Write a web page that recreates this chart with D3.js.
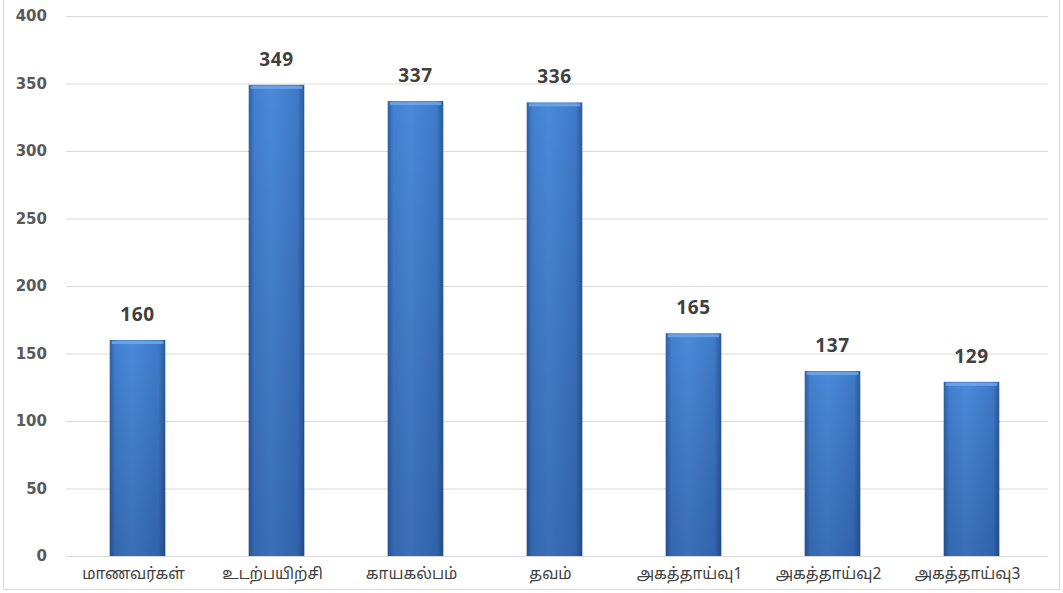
<!DOCTYPE html>
<html>
<head>
<meta charset="utf-8">
<script src="https://cdn.jsdelivr.net/npm/d3@7"></script>
<style>
  body { margin: 0; background: #fff; }
  svg { display: block; }
</style>
</head>
<body>
<script>
const categories = ["மாணவர்கள்", "உடற்பயிற்சி", "காயகல்பம்", "தவம்", "அகத்தாய்வு1", "அகத்தாய்வு2", "அகத்தாய்வு3"];
const values = [160, 349, 337, 336, 165, 137, 129];
const yTicks = [0, 50, 100, 150, 200, 250, 300, 350, 400];

const width = 1063;
const height = 593;
const margin = { top: 16, right: 22, bottom: 37, left: 68 };

const svg = d3.select("body")
  .append("svg")
  .attr("width", width)
  .attr("height", height);

// frame
svg.append("rect")
  .attr("x", 3.5)
  .attr("y", -2)
  .attr("width", width - 7)
  .attr("height", height - 1.5)
  .attr("fill", "none")
  .attr("stroke", "#d9d9d9")
  .attr("stroke-width", 1);

const defs = svg.append("defs");
const grad = defs.append("linearGradient")
  .attr("id", "barFill")
  .attr("x1", "0%").attr("x2", "100%")
  .attr("y1", "0%").attr("y2", "0%");
grad.append("stop").attr("offset", "0%").attr("stop-color", "#2d5fa3");
grad.append("stop").attr("offset", "10%").attr("stop-color", "#4280d0");
grad.append("stop").attr("offset", "40%").attr("stop-color", "#4a8ad9");
grad.append("stop").attr("offset", "88%").attr("stop-color", "#3e7aca");
grad.append("stop").attr("offset", "100%").attr("stop-color", "#2b5a98");

const shade = defs.append("linearGradient")
  .attr("id", "barShade")
  .attr("x1", "0%").attr("x2", "0%")
  .attr("y1", "0%").attr("y2", "100%");
shade.append("stop").attr("offset", "0%").attr("stop-color", "#000").attr("stop-opacity", 0);
shade.append("stop").attr("offset", "100%").attr("stop-color", "#001040").attr("stop-opacity", 0.22);

const x = d3.scaleBand()
  .domain(categories)
  .range([margin.left, 1041])
  .paddingInner(0.6)
  .paddingOuter(0.3);

const y = d3.scaleLinear()
  .domain([0, 400])
  .range([height - margin.bottom, margin.top]);

// gridlines
svg.append("g")
  .selectAll("line")
  .data(yTicks)
  .join("line")
  .attr("x1", 66)
  .attr("x2", 1048)
  .attr("y1", d => y(d) + 0.5)
  .attr("y2", d => y(d) + 0.5)
  .attr("stroke", "#d9d9d9")
  .attr("stroke-width", 1.2);

// y axis labels
const yAxis = d3.axisLeft(y).tickValues(yTicks).tickSize(0).tickPadding(0);
svg.append("g")
  .attr("transform", "translate(47,0)")
  .call(yAxis)
  .call(g => g.select(".domain").remove())
  .selectAll("text")
  .attr("font-family", "'DejaVu Sans', sans-serif")
  .attr("font-weight", "bold")
  .attr("font-size", "15px")
  .attr("fill", "#595959");

// bars
const bars = svg.append("g");
bars.selectAll("rect.bar")
  .data(values)
  .join("rect")
  .attr("class", "bar")
  .attr("x", (d, i) => x(categories[i]))
  .attr("y", d => y(d))
  .attr("width", x.bandwidth())
  .attr("height", d => y(0) - y(d))
  .attr("fill", "url(#barFill)");

bars.selectAll("rect.shade")
  .data(values)
  .join("rect")
  .attr("class", "shade")
  .attr("x", (d, i) => x(categories[i]))
  .attr("y", d => y(d))
  .attr("width", x.bandwidth())
  .attr("height", d => y(0) - y(d))
  .attr("fill", "url(#barShade)");

// top bevel highlight
bars.selectAll("rect.bevel")
  .data(values)
  .join("rect")
  .attr("class", "bevel")
  .attr("x", (d, i) => x(categories[i]) + 2)
  .attr("y", d => y(d) + 1)
  .attr("width", x.bandwidth() - 4)
  .attr("height", 3)
  .attr("fill", "#74a9ea")
  .attr("opacity", 0.8);

// value labels
svg.append("g")
  .selectAll("text")
  .data(values)
  .join("text")
  .attr("x", (d, i) => x(categories[i]) + x.bandwidth() / 2)
  .attr("y", d => y(d) - 19)
  .attr("text-anchor", "middle")
  .attr("font-family", "'Open Sans', 'DejaVu Sans', sans-serif")
  .attr("font-weight", "bold")
  .attr("font-size", "19px")
  .attr("letter-spacing", "0.6px")
  .attr("fill", "#404040")
  .text(d => d);

// x axis labels
const xAxis = d3.axisBottom(x).tickSize(0).tickPadding(0);
svg.append("g")
  .attr("transform", `translate(-4,${y(0) + 9})`)
  .call(xAxis)
  .call(g => g.select(".domain").remove())
  .selectAll("text")
  .attr("dy", "0.9em")
  .attr("font-family", "'Noto Sans Tamil', 'Latha', 'Noto Serif Tamil', serif")
  .attr("font-size", "15.5px")
  .attr("fill", "#404040");
</script>
</body>
</html>
